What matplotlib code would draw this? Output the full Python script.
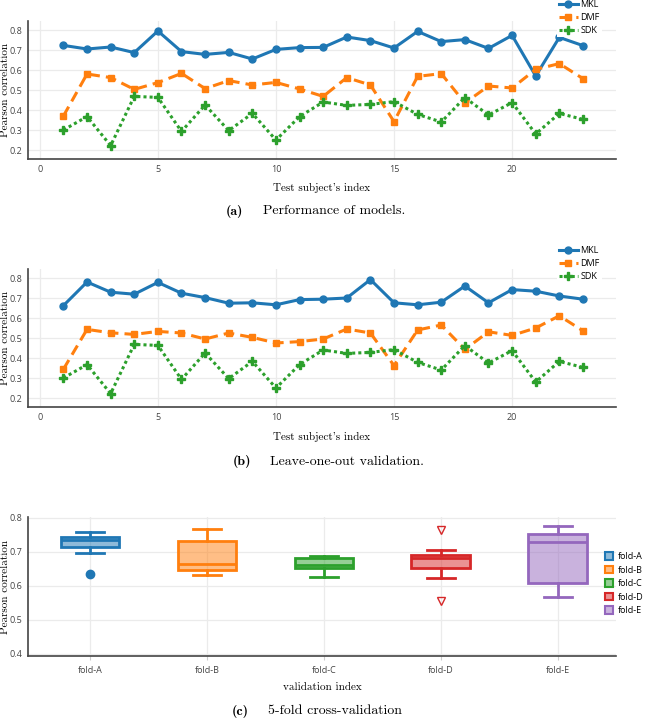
import matplotlib
matplotlib.use("Agg")
import matplotlib.pyplot as plt
from matplotlib.patches import Patch

# subjects 1..23
subjects = list(range(1, 24))

mkl_a = [0.723, 0.705, 0.715, 0.687, 0.795, 0.692, 0.678, 0.688, 0.655, 0.703, 0.712, 0.713,
         0.765, 0.747, 0.710, 0.793, 0.742, 0.752, 0.708, 0.773, 0.570, 0.763, 0.722]
dmf_a = [0.370, 0.580, 0.562, 0.503, 0.537, 0.583, 0.507, 0.547, 0.525, 0.538, 0.505, 0.468,
         0.562, 0.525, 0.342, 0.568, 0.582, 0.435, 0.520, 0.510, 0.603, 0.632, 0.557]
sdk_a = [0.300, 0.367, 0.222, 0.468, 0.463, 0.293, 0.425, 0.297, 0.383, 0.250, 0.367, 0.440,
         0.423, 0.428, 0.442, 0.378, 0.340, 0.462, 0.375, 0.437, 0.280, 0.383, 0.353]

mkl_b = [0.662, 0.780, 0.729, 0.719, 0.778, 0.724, 0.702, 0.674, 0.676, 0.666, 0.692, 0.694,
         0.700, 0.792, 0.676, 0.666, 0.679, 0.760, 0.676, 0.742, 0.734, 0.710, 0.694]
dmf_b = [0.344, 0.543, 0.526, 0.518, 0.533, 0.525, 0.495, 0.525, 0.503, 0.475, 0.482, 0.495,
         0.545, 0.525, 0.362, 0.540, 0.565, 0.443, 0.531, 0.513, 0.550, 0.611, 0.536]
sdk_b = sdk_a

folds = ["fold-A", "fold-B", "fold-C", "fold-D", "fold-E"]
fold_whislo = [0.696, 0.631, 0.626, 0.623, 0.566]
fold_q1 = [0.715, 0.646, 0.652, 0.651, 0.607]
fold_med = [0.733, 0.664, 0.661, 0.680, 0.729]
fold_q3 = [0.743, 0.731, 0.680, 0.690, 0.752]
fold_whishi = [0.757, 0.768, 0.687, 0.704, 0.776]
fold_fliers = [[0.635], [], [], [0.764, 0.556], []]

colors = ["#1f77b4", "#ff7f0e", "#2ca02c", "#d62728", "#9467bd"]

W, H = 645, 718
fig = plt.figure(figsize=(W / 100, H / 100), dpi=100)

tick_font = "Open Sans"
serif = ["cmr10", "DejaVu Serif"]
serif_bold = ["cmb10", "DejaVu Serif"]
tick_col = "#444444"
grid_col = "#ebebeb"


def box(top, bottom, left=28, right=616):
    return [left / W, 1 - bottom / H, (right - left) / W, (bottom - top) / H]


def style(ax):
    for s in ["top", "right"]:
        ax.spines[s].set_visible(False)
    for s in ["left", "bottom"]:
        ax.spines[s].set_color(tick_col)
        ax.spines[s].set_linewidth(1.2)
    ax.grid(True, color=grid_col, lw=0.9)
    ax.set_axisbelow(True)
    ax.tick_params(labelsize=6.5, colors=tick_col, length=0, pad=4)
    for lab in ax.get_xticklabels() + ax.get_yticklabels():
        lab.set_fontfamily(tick_font)


def titles(top, bottom, xtitle, xpos):
    fig.text(5 / W, 1 - (top + bottom) / 2 / H, "Pearson correlation", rotation=90,
             fontfamily=serif, fontsize=8, ha="center", va="center")
    fig.text(322 / W, 1 - xpos / H, xtitle, fontfamily=serif, fontsize=8,
             ha="center", va="center")


def line_panel(top, bottom, mkl, dmf, sdk, leg_top, xpos):
    ax = fig.add_axes(box(top, bottom))
    ax.plot(subjects, mkl, color=colors[0], lw=2.2, marker="o", ms=5, label="MKL")
    ax.plot(subjects, dmf, color=colors[1], lw=2.2, ls=(0, (3.5, 2)), marker="s", ms=5, label="DMF")
    ax.plot(subjects, sdk, color=colors[2], lw=2.2, ls=(0, (1, 1)), marker="P", ms=5.5, label="SDK")
    ax.set_xlim(-0.5, 24.4)
    ax.set_ylim(0.155, 0.845)
    ax.set_xticks([0, 5, 10, 15, 20])
    ax.set_yticks([0.2, 0.3, 0.4, 0.5, 0.6, 0.7, 0.8])
    ax.set_yticklabels(["0.2", "0.3", "0.4", "0.5", "0.6", "0.7", "0.8"])
    style(ax)
    titles(top, bottom, "Test subject's index", xpos)
    leg = ax.legend(loc="upper left", bbox_to_anchor=(557 / W, 1 - leg_top / H),
                    bbox_transform=fig.transFigure, frameon=True, fancybox=False,
                    edgecolor="none", facecolor="white", framealpha=1,
                    prop={"family": tick_font, "size": 6.5}, handlelength=2.1,
                    handletextpad=0.3, labelspacing=0.45, borderpad=0.2, borderaxespad=0)
    leg.set_zorder(5)
    return ax


line_panel(21, 159, mkl_a, dmf_a, sdk_a, -2, 188)
line_panel(269, 407, mkl_b, dmf_b, sdk_b, 244, 437)

# box plot panel
axc = fig.add_axes(box(517, 656))
stats = []
for i, name in enumerate(folds):
    stats.append(dict(label=name, med=fold_med[i], q1=fold_q1[i], q3=fold_q3[i],
                      whislo=fold_whislo[i], whishi=fold_whishi[i], fliers=fold_fliers[i]))
pos = list(range(len(folds)))
for i, st in enumerate(stats):
    c = colors[i]
    fm = "v" if i == 3 else "o"
    ffc = "none" if i == 3 else c
    axc.bxp([st], positions=[pos[i]], widths=0.5, patch_artist=True,
            boxprops=dict(facecolor=matplotlib.colors.to_rgba(c, 0.5), edgecolor=c, lw=2),
            medianprops=dict(color=c, lw=2),
            whiskerprops=dict(color=c, lw=2), capprops=dict(color=c, lw=2),
            capwidths=0.24,
            flierprops=dict(marker=fm, markerfacecolor=ffc, markeredgecolor=c, ms=6, mew=1))
axc.set_xlim(-0.53, 4.5)
axc.set_ylim(0.393, 0.802)
axc.set_xticks(pos)
axc.set_xticklabels(folds)
axc.set_yticks([0.4, 0.5, 0.6, 0.7, 0.8])
axc.set_yticklabels(["0.4", "0.5", "0.6", "0.7", "0.8"])
style(axc)
axc.tick_params(axis="x", length=3, width=0.8, color="#cccccc", pad=4)
titles(517, 656, "validation index", 687)
handles = [Patch(facecolor=matplotlib.colors.to_rgba(c, 0.5), edgecolor=c, lw=1.5) for c in colors]
axc.legend(handles, folds, loc="upper left", bbox_to_anchor=(605 / W, 1 - 552 / H),
           bbox_transform=fig.transFigure, frameon=False,
           prop={"family": tick_font, "size": 6.5}, handlelength=0.9, handleheight=0.9,
           handletextpad=0.5, labelspacing=0.5, borderpad=0, borderaxespad=0)

# captions
captions = [("(a)", "Performance of models.", 226, 263, 211),
            ("(b)", "Leave-one-out validation.", 233, 270, 462),
            ("(c)", "5-fold cross-validation", 232, 268, 711)]
for tag, txt, x0, x1, y in captions:
    fig.text(x0 / W, 1 - y / H, tag, fontfamily=serif_bold, fontsize=10, va="center", ha="left")
    fig.text(x1 / W, 1 - y / H, txt, fontfamily=serif, fontsize=10, va="center", ha="left")

fig.savefig("out.png", dpi=100)
